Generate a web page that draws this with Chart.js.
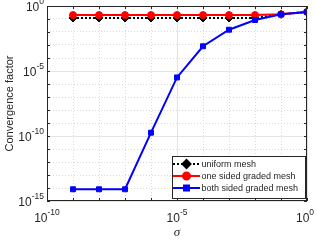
<!DOCTYPE html>
<html>
<head>
<meta charset="utf-8">
<script src="https://cdn.jsdelivr.net/npm/chart.js@4.4.1/dist/chart.umd.min.js"></script>
<style>
  html, body { margin: 0; padding: 0; background: #fff; }
  #wrap { width: 317px; height: 243px; }
</style>
</head>
<body>
<div id="wrap"><canvas id="chart" width="317" height="243"></canvas></div>
<script>
// sigma values (x axis)
const sigma = [1e-9, 1e-8, 1e-7, 1e-6, 1e-5, 1e-4, 1e-3, 1e-2, 1e-1, 1];
// convergence factors
const uniformMesh = [0.12, 0.12, 0.12, 0.12, 0.12, 0.12, 0.12, 0.12, 0.23, 0.35];
const oneSided = [0.2, 0.2, 0.2, 0.2, 0.2, 0.2, 0.2, 0.2, 0.23, 0.35];
const bothSided = [8e-15, 8e-15, 8e-15, 1.8e-10, 3.2e-6, 8e-4, 1.5e-2, 8.3e-2, 0.23, 0.35];

const xLabelExps = [-10, -5, 0];
const yLabelExps = [0, -5, -10, -15];
const legendLabels = ["uniform mesh", "one sided graded mesh", "both sided graded mesh"];

function pts(ys) {
    return sigma.map((s, i) => ({ x: s, y: ys[i] }));
}

function decadeTicks(lo, hi) {
    let t = [];
    for (let e = lo; e <= hi; e++) t.push({ value: Math.pow(10, e) });
    return t;
}

function isMajor(v, exps) {
    let e = Math.round(Math.log10(v));
    return exps.indexOf(e) >= 0;
}

// axis labels with superscripts, box, inner ticks, legend
const decorPlugin = {
    id: "decor",
    afterDraw(chart) {
        const ctx = chart.ctx;
        const a = chart.chartArea;
        const xs = chart.scales.x, ys = chart.scales.y;
        ctx.save();

        // box
        ctx.strokeStyle = "#262626";
        ctx.lineWidth = 1;
        ctx.strokeRect(a.left + 0.5, a.top + 0.5, a.right - a.left - 1, a.bottom - a.top - 1);

        // small inner ticks
        ctx.beginPath();
        for (let e = -10; e <= 0; e++) {
            let px = Math.round(xs.getPixelForValue(Math.pow(10, e))) + 0.5;
            ctx.moveTo(px, a.bottom); ctx.lineTo(px, a.bottom - 3);
            ctx.moveTo(px, a.top); ctx.lineTo(px, a.top + 3);
        }
        for (let e = -15; e <= 0; e++) {
            let py = Math.round(ys.getPixelForValue(Math.pow(10, e))) + 0.5;
            ctx.moveTo(a.left, py); ctx.lineTo(a.left + 3, py);
            ctx.moveTo(a.right, py); ctx.lineTo(a.right - 3, py);
        }
        ctx.stroke();

        ctx.fillStyle = "#262626";
        const big = "12px 'Liberation Sans', Arial, sans-serif";
        const small = "8.5px 'Liberation Sans', Arial, sans-serif";

        // x tick labels
        xLabelExps.forEach(e => {
            let px = xs.getPixelForValue(Math.pow(10, e));
            ctx.font = big;
            let w1 = ctx.measureText("10").width;
            ctx.font = small;
            let sup = String(e);
            let w2 = ctx.measureText(sup).width;
            let x0 = px - (w1 + w2) / 2;
            if (e === 0) x0 -= 2;
            ctx.textAlign = "left";
            ctx.textBaseline = "alphabetic";
            ctx.font = big;
            ctx.fillText("10", x0, a.bottom + 21);
            ctx.font = small;
            ctx.fillText(sup, x0 + w1, a.bottom + 14);
        });

        // y tick labels
        yLabelExps.forEach(e => {
            let py = ys.getPixelForValue(Math.pow(10, e));
            ctx.font = small;
            let sup = String(e);
            let w2 = ctx.measureText(sup).width;
            ctx.font = big;
            let w1 = ctx.measureText("10").width;
            let xr = a.left - 3;
            ctx.textAlign = "left";
            ctx.textBaseline = "alphabetic";
            ctx.font = big;
            ctx.fillText("10", xr - w2 - w1, py + 5);
            ctx.font = small;
            ctx.fillText(sup, xr - w2, py - 2);
        });

        // axis titles
        ctx.font = "11px 'Liberation Sans', Arial, sans-serif";
        ctx.textAlign = "center";
        ctx.textBaseline = "middle";
        ctx.save();
        ctx.translate(10, (a.top + a.bottom) / 2);
        ctx.rotate(-Math.PI / 2);
        ctx.fillText("Convergence factor", 0, 0);
        ctx.restore();
        ctx.font = "italic 13px 'Liberation Serif', serif";
        ctx.fillText("\u03c3", (a.left + a.right) / 2, a.bottom + 32);

        // legend
        let lx = 172, ly = 156, lw = a.right - 172 - 2, lh = 42;
        ctx.fillStyle = "#fff";
        ctx.fillRect(lx, ly, lw, lh);
        ctx.strokeStyle = "#262626";
        ctx.lineWidth = 1;
        ctx.strokeRect(lx + 0.5, ly + 0.5, lw, lh);
        chart.data.datasets.forEach((ds, i) => {
            let cy = ly + 8 + i * 12;
            ctx.strokeStyle = ds.borderColor;
            ctx.lineWidth = 2;
            ctx.setLineDash(ds.borderDash || []);
            ctx.beginPath();
            ctx.moveTo(lx + 1, cy); ctx.lineTo(lx + 28, cy);
            ctx.stroke();
            ctx.setLineDash([]);
            Chart.helpers.drawPoint(ctx, {
                pointStyle: ds.pointStyle, radius: ds.pointRadius, rotation: ds.pointRotation || 0,
                borderWidth: 1
            }, lx + 14.5, cy);
            ctx.fillStyle = ds.pointBackgroundColor;
            ctx.strokeStyle = ds.borderColor;
            ctx.fill();
            ctx.fillStyle = "#262626";
            ctx.font = "9px 'Liberation Sans', Arial, sans-serif";
            ctx.textAlign = "left";
            ctx.textBaseline = "middle";
            ctx.fillText(legendLabels[i], lx + 29.5, cy + 0.5);
        });
        ctx.restore();
    }
};

function gridOpts(exps) {
    return {
        display: true,
        drawTicks: false,
        color: c => (c.tick && isMajor(c.tick.value, exps)) ? "#e3e3e3" : "#dadada",
        lineWidth: 1
    };
}

function borderOpts(exps) {
    return {
        display: false,
        dash: c => (c.tick && !isMajor(c.tick.value, exps)) ? [1, 2] : []
    };
}

new Chart(document.getElementById("chart"), {
    type: "line",
    data: {
        datasets: [
            {
                label: legendLabels[0], data: pts(uniformMesh),
                borderColor: "#000", backgroundColor: "#000", pointBackgroundColor: "#000",
                borderWidth: 2, borderDash: [2, 2],
                pointStyle: "rectRot", pointRadius: 4, pointBorderWidth: 1, order: 3
            },
            {
                label: legendLabels[1], data: pts(oneSided),
                borderColor: "#ff0000", backgroundColor: "#ff0000", pointBackgroundColor: "#ff0000",
                borderWidth: 2,
                pointStyle: "circle", pointRadius: 3.5, pointBorderWidth: 1, order: 2
            },
            {
                label: legendLabels[2], data: pts(bothSided),
                borderColor: "#0000ff", backgroundColor: "#0000ff", pointBackgroundColor: "#0000ff",
                borderWidth: 2,
                pointStyle: "rect", pointRadius: 3.5, pointBorderWidth: 1, order: 1
            }
        ]
    },
    options: {
        responsive: false,
        animation: false,
        devicePixelRatio: 1,
        layout: { padding: { left: 47, right: 10, top: 6, bottom: 42 } },
        plugins: { legend: { display: false }, tooltip: { enabled: false } },
        elements: { line: { tension: 0 } },
        scales: {
            x: {
                type: "logarithmic", min: 1e-10, max: 1,
                afterBuildTicks: s => { s.ticks = decadeTicks(-10, 0); },
                ticks: { display: false },
                grid: gridOpts(xLabelExps),
                border: borderOpts(xLabelExps)
            },
            y: {
                type: "logarithmic", min: 1e-15, max: 1,
                afterBuildTicks: s => { s.ticks = decadeTicks(-15, 0); },
                ticks: { display: false },
                grid: gridOpts(yLabelExps),
                border: borderOpts(yLabelExps)
            }
        }
    },
    plugins: [decorPlugin]
});
</script>
</body>
</html>
